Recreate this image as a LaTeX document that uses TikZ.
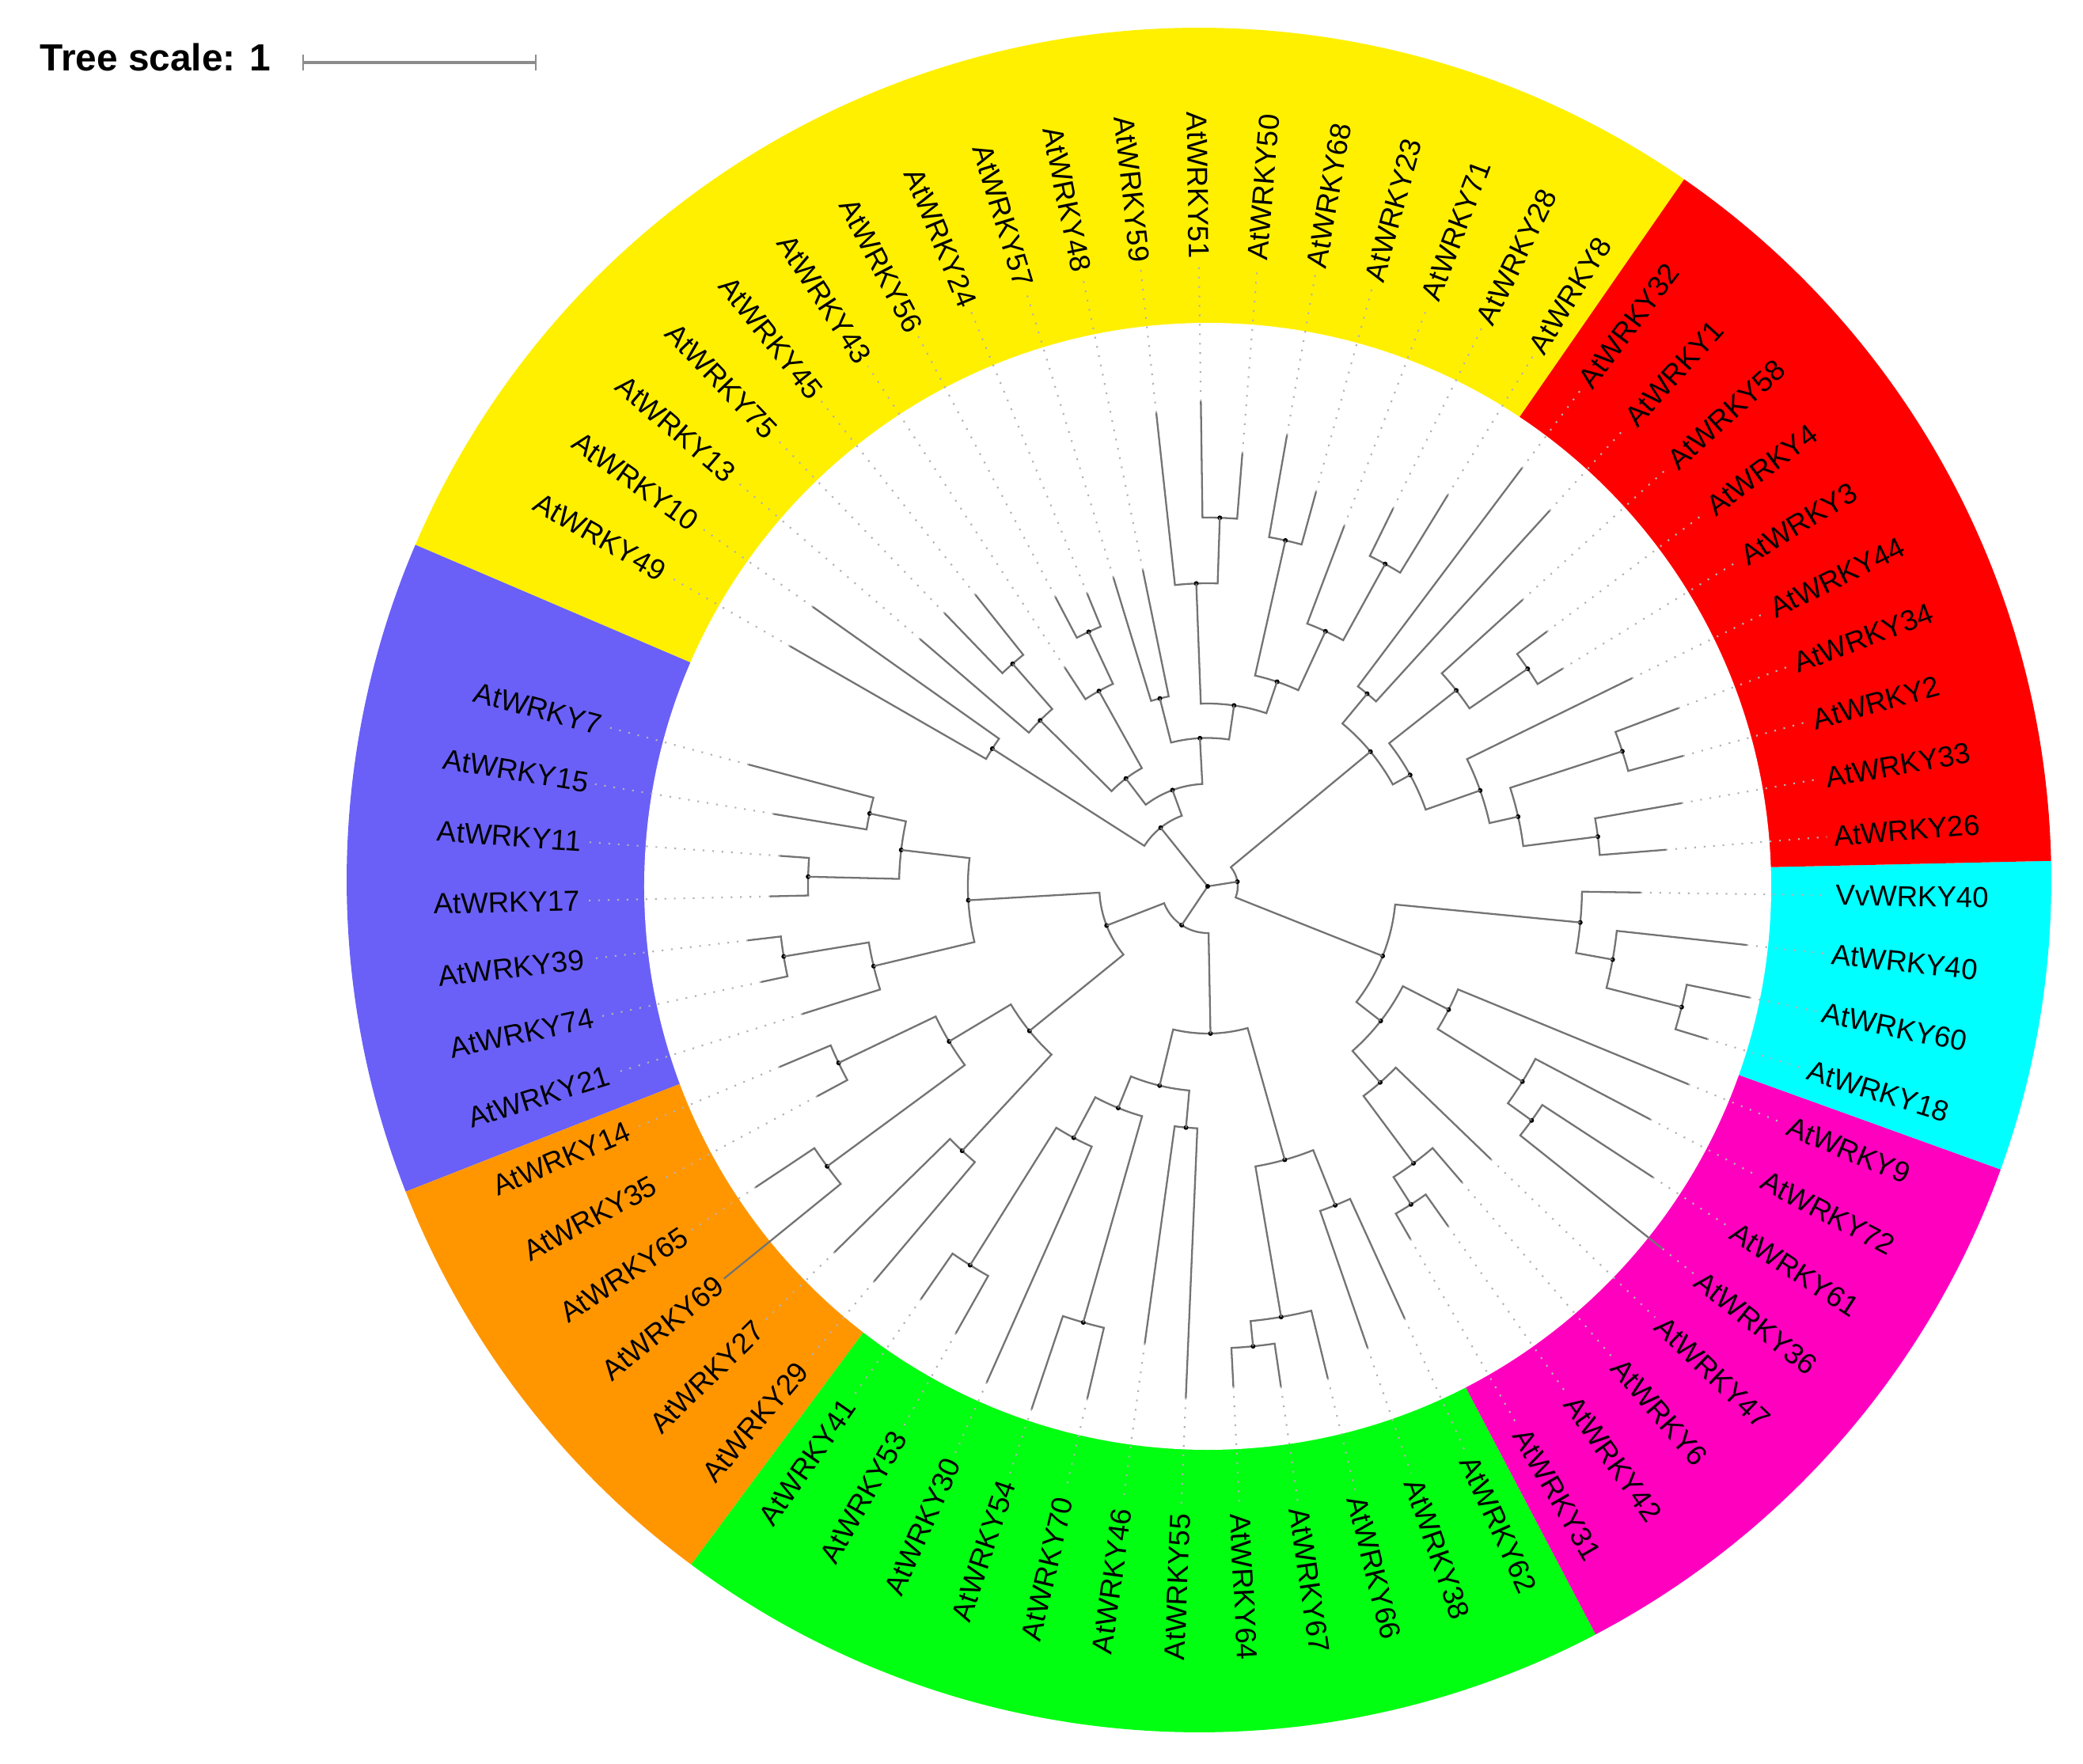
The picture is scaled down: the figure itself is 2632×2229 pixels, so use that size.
\documentclass[tikz,border=0pt]{standalone}
\usepackage{fontspec}
\setmainfont{Liberation Sans}
\definecolor{ylw}{HTML}{FFF000}
\definecolor{rd}{HTML}{FF0000}
\definecolor{cyn}{HTML}{00FFFF}
\definecolor{mgt}{HTML}{FF00BF}
\definecolor{grn}{HTML}{00FF11}
\definecolor{orng}{HTML}{FF9600}
\definecolor{blu}{HTML}{6A60F7}

\tikzset{
  branch/.style={draw=black!55,line width=0.65pt},
  leafdot/.style={draw=black!30,line width=0.6pt,dash pattern=on 0.6pt off 2.8pt},
  nodedot/.style={fill=black},
  lab/.style={inner sep=0pt,font=\fontsize{10.4}{12}\selectfont},
}

\newcommand\leaf[4]{%
  \pgfmathsetmacro\lfang{150.1-5.39*#2}%
  \expandafter\xdef\csname ang#1\endcsname{\lfang}%
  \coordinate (#1) at (\lfang:#3);%
  \ifdim #3pt<780pt \draw[leafdot] (#1) -- (\lfang:785);\fi
  \pgfmathsetmacro\lfcos{cos(\lfang)}%
  \ifdim\lfcos pt<0pt
    \pgfmathsetmacro\lfrot{\lfang+180}%
    \node[lab,anchor=east,rotate=\lfrot] (t#1) at (\lfang:793) {#4};%
  \else
    \node[lab,anchor=west,rotate=\lfang] (t#1) at (\lfang:793) {#4};%
  \fi}

\newcommand\clade[4]{%
  \edef\cka{\csname ang#2\endcsname}%
  \edef\ckb{\csname ang#3\endcsname}%
  \pgfmathsetmacro\ckm{(\cka+\ckb)/2}%
  \expandafter\xdef\csname ang#1\endcsname{\ckm}%
  \coordinate (#1) at (\ckm:#4);%
  \draw[branch] (#2) -- (\cka:#4) arc[start angle=\cka,end angle=\ckb,radius=#4] -- (#3);%
  \fill[nodedot] (#1) circle[radius=3];}

\begin{document}
\begin{tikzpicture}[x=0.1mm,y=0.1mm]
\useasboundingbox (-1526,-1109) rectangle (1106,1120);
\fill[white] (-1526,-1109) rectangle (1106,1120);

\coordinate (oc) at (-11,8);
\fill[ylw] (oc) -- ++(55.3:1077) arc[start angle=55.3,end angle=156.84,radius=1077] -- cycle;
\fill[blu] (oc) -- ++(156.84:1077) arc[start angle=156.84,end angle=201.45,radius=1077] -- cycle;
\fill[orng] (oc) -- ++(-158.55:1077) arc[start angle=-158.55,end angle=-126.57,radius=1077] -- cycle;
\fill[grn] (oc) -- ++(-126.57:1077) arc[start angle=-126.57,end angle=-62.26,radius=1077] -- cycle;
\fill[mgt] (oc) -- ++(-62.26:1077) arc[start angle=-62.26,end angle=-19.85,radius=1077] -- cycle;
\fill[cyn] (oc) -- ++(-19.85:1077) arc[start angle=-19.85,end angle=1.29,radius=1077] -- cycle;
\fill[rd] (oc) -- ++(1.29:1077) arc[start angle=1.29,end angle=55.3,radius=1077] -- cycle;
\fill[white] (0,0) circle[radius=712];

\node[anchor=base west,inner sep=0pt,font=\fontsize{13.6}{16}\selectfont\bfseries] (scaletxt) at (-1476,1030) {Tree scale: 1};
\coordinate (sbl) at (-1143,1041);
\coordinate (sbr) at (-849,1041);
\draw[black!45,line width=0.9pt] (sbl) -- (sbr);
\draw[black!45,line width=0.5pt] ([yshift=-1mm]sbl) -- ([yshift=1mm]sbl) ([yshift=-1mm]sbr) -- ([yshift=1mm]sbr);

\leaf{L49}{0}{609}{AtWRKY49}
\leaf{L10}{1}{611}{AtWRKY10}
\leaf{L13}{2}{479}{AtWRKY13}
\leaf{L75}{3}{479}{AtWRKY75}
\leaf{L45}{4}{471}{AtWRKY45}
\leaf{L43}{5}{330}{AtWRKY43}
\leaf{L56}{6}{413}{AtWRKY56}
\leaf{L24}{7}{400}{AtWRKY24}
\leaf{L57}{8}{408}{AtWRKY57}
\leaf{L48}{9}{408}{AtWRKY48}
\leaf{L59}{10}{602}{AtWRKY59}
\leaf{L51}{11}{613}{AtWRKY51}
\leaf{L50}{12}{549}{AtWRKY50}
\leaf{L68}{13}{579}{AtWRKY68}
\leaf{L23}{14}{517}{AtWRKY23}
\leaf{L71}{15}{487}{AtWRKY71}
\leaf{L28}{16}{532}{AtWRKY28}
\leaf{L8}{17}{580}{AtWRKY8}
\leaf{L32}{18}{661}{AtWRKY32}
\leaf{L1}{19}{642}{AtWRKY1}
\leaf{L58}{20}{538}{AtWRKY58}
\leaf{L4}{21}{536}{AtWRKY4}
\leaf{L3}{22}{526}{AtWRKY3}
\leaf{L44}{23}{597}{AtWRKY44}
\leaf{L34}{24}{636}{AtWRKY34}
\leaf{L2}{25}{623}{AtWRKY2}
\leaf{L33}{26}{608}{AtWRKY33}
\leaf{L26}{27}{581}{AtWRKY26}
\leaf{Lv40}{28}{547}{VvWRKY40}
\leaf{L40}{29}{685}{AtWRKY40}
\leaf{L60}{30}{699}{AtWRKY60}
\leaf{L18}{31}{660}{AtWRKY18}
\leaf{L9}{32}{657}{AtWRKY9}
\leaf{L72}{33}{632}{AtWRKY72}
\leaf{L61}{34}{672}{AtWRKY61}
\leaf{L36}{35}{735}{AtWRKY36}
\leaf{L47}{36}{497}{AtWRKY47}
\leaf{L6}{37}{493}{AtWRKY6}
\leaf{L42}{38}{526}{AtWRKY42}
\leaf{L31}{39}{514}{AtWRKY31}
\leaf{L62}{40}{600}{AtWRKY62}
\leaf{L38}{41}{617}{AtWRKY38}
\leaf{L66}{42}{640}{AtWRKY66}
\leaf{L67}{43}{639}{AtWRKY67}
\leaf{L64}{44}{633}{AtWRKY64}
\leaf{L55}{45}{647}{AtWRKY55}
\leaf{L46}{46}{583}{AtWRKY46}
\leaf{L70}{47}{665}{AtWRKY70}
\leaf{L54}{48}{697}{AtWRKY54}
\leaf{L30}{49}{686}{AtWRKY30}
\leaf{L53}{50}{648}{AtWRKY53}
\leaf{L41}{51}{635}{AtWRKY41}
\leaf{L29}{52}{653}{AtWRKY29}
\leaf{L27}{53}{660}{AtWRKY27}
\leaf{L69}{54}{787}{AtWRKY69}
\leaf{L65}{55}{686}{AtWRKY65}
\leaf{L35}{56}{560}{AtWRKY35}
\leaf{L14}{57}{587}{AtWRKY14}
\leaf{L21}{58}{537}{AtWRKY21}
\leaf{L74}{59}{577}{AtWRKY74}
\leaf{L39}{60}{585}{AtWRKY39}
\leaf{L17}{61}{553}{AtWRKY17}
\leaf{L11}{62}{542}{AtWRKY11}
\leaf{L15}{63}{556}{AtWRKY15}
\leaf{L7}{64}{600}{AtWRKY7}

% yellow
\clade{n49x10}{L49}{L10}{323}
\clade{n45x75}{L45}{L75}{374}
\clade{nZ}{n45x75}{L13}{298}
\clade{n24x56}{L24}{L56}{355}
\clade{nY1}{L43}{n24x56}{282.5}
\clade{nY}{nY1}{nZ}{171}
\clade{n48x57}{L57}{L48}{245}
\clade{n51x50}{L51}{L50}{466}
\clade{n59}{L59}{n51x50}{383}
\clade{n68x23}{L68}{L23}{448}
\clade{n28x8}{L28}{L8}{465}
\clade{n71}{L71}{n28x8}{355}
\clade{nYR}{n68x23}{n71}{273}
\clade{nA}{n59}{nYR}{231}
\clade{nB}{n48x57}{nA}{187.5}
\clade{nX}{nY}{nB}{129.5}
\clade{nRC}{n49x10}{nX}{95}
% red
\clade{n32x1}{L32}{L1}{316}
\clade{n4x3}{L4}{L3}{489}
\clade{n58}{L58}{n4x3}{400}
\clade{n34x2}{L34}{L2}{551}
\clade{n33x26}{L33}{L26}{497}
\clade{nR2}{n34x2}{n33x26}{402}
\clade{nR1}{L44}{nR2}{365}
\clade{nR0}{n58}{nR1}{292}
\clade{nRed}{n32x1}{nR0}{267}
% cyan and magenta
\clade{n60x18}{L60}{L18}{618}
\clade{n40}{L40}{n60x18}{520}
\clade{nCyan}{Lv40}{n40}{473}
\clade{n61x36}{L61}{L36}{505}
\clade{nM3}{L72}{n61x36}{468}
\clade{nM1}{L9}{nM3}{342}
\clade{n42x31}{L42}{L31}{477}
\clade{nMX}{L6}{n42x31}{436}
\clade{nM2}{L47}{nMX}{330}
\clade{nM0}{nM1}{nM2}{277}
\clade{nCY}{nCyan}{nM0}{238}
\clade{nRight}{nRed}{nCY}{38}
% green
\clade{n53x41}{L53}{L41}{565}
\clade{nG4}{n53x41}{L30}{360}
\clade{n70x54}{L70}{L54}{573}
\clade{nG3}{nG4}{n70x54}{302}
\clade{n55x46}{L55}{L46}{306}
\clade{nGL}{nG3}{n55x46}{259}
\clade{n64x67}{L64}{L67}{584}
\clade{nG2}{n64x67}{L66}{552}
\clade{n38x62}{L38}{L62}{434}
\clade{nGR}{nG2}{n38x62}{359}
\clade{nG}{nGL}{nGR}{186}
% orange and blue
\clade{n14x35}{L14}{L35}{517}
\clade{n65x69}{L65}{L69}{597}
\clade{nO1}{n14x35}{n65x69}{381}
\clade{n27x29}{L27}{L29}{456}
\clade{nO0}{nO1}{n27x29}{290}
\clade{n7x15}{L7}{L15}{437}
\clade{n11x17}{L11}{L17}{505}
\clade{nBU}{n7x15}{n11x17}{390}
\clade{n74x39}{L74}{L39}{543}
\clade{nBL}{L21}{n74x39}{434}
\clade{nBlue}{nBU}{nBL}{303}
\clade{nOB}{nO0}{nBlue}{137}
\clade{nLeft}{nG}{nOB}{59}

\coordinate (root) at (0,0);
\draw[branch] (root) -- (nRight);
\draw[branch] (root) -- (nRC);
\draw[branch] (root) -- (nLeft);
\fill[nodedot] (root) circle[radius=3];
\end{tikzpicture}
\end{document}
